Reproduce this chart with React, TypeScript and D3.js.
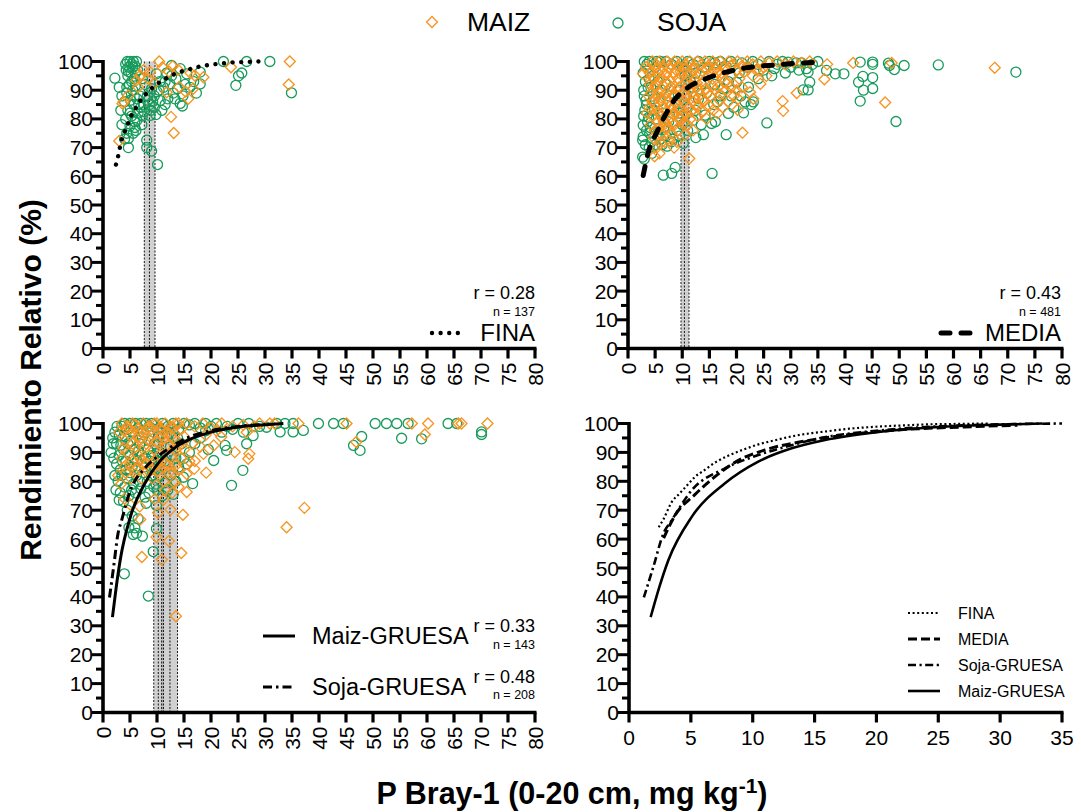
import React from "react";
import * as d3 from "d3";

const FONT = "'Liberation Sans', Arial, Helvetica, sans-serif";
const ORANGE = "#F7931E";
const GREEN = "#179B5B";

type Pt = [number, number];

// ---------- ticks ----------
const xTicksWide = [0, 5, 10, 15, 20, 25, 30, 35, 40, 45, 50, 55, 60, 65, 70, 75, 80];
const xTicksNarrow = [0, 5, 10, 15, 20, 25, 30, 35];
const yTicksMajor = [0, 10, 20, 30, 40, 50, 60, 70, 80, 90, 100];
const yTicksMinor = [5, 15, 25, 35, 45, 55, 65, 75, 85, 95];

// ---------- fitted curves ----------
const curveFina: Pt[] = [[2.4,64.1],[2.8,67],[3.45,72.8],[4.07,75.7],[4.7,78.6],[5.3,81.4],[6.1,83.9],[7,86.6],[8,88.8],[9.2,90.9],[10.4,92.7],[11.8,94.2],[13.1,95.5],[14.8,96.7],[16.2,97.4],[17.8,98.2],[19.3,98.7],[20.9,99.1],[22.5,99.4],[24.1,99.7],[25.8,99.8],[27.4,99.9],[29.1,100]];
const curveMedia: Pt[] = [[2.8,60.3],[3.75,68.4],[5.3,75.3],[6.8,81.1],[8.7,86.9],[11.1,91],[14.2,93.9],[17.9,96.2],[22.2,97.9],[27.1,98.8],[31.4,99.4],[35.4,99.7]];
const curveSoja: Pt[] = [[1.2,39.8],[1.97,50.4],[2.78,61.9],[3.45,66.5],[5.07,76.9],[7.76,84.5],[10.45,89.1],[13.15,92.5],[15.3,94.8],[20,97.5],[25,99],[30,99.7],[35,100]];
const curveMaiz: Pt[] = [[1.75,33],[2.45,43.4],[3.18,52.7],[5.07,67.7],[7.76,79.3],[10.45,86.8],[13.15,91.4],[15.85,94.3],[20,97],[25,98.8],[30,99.6],[33.4,100]];

// ---------- critical-level bands ----------
const bandsFina = [{ x0: 7.65, x1: 9.63, lines: [7.65, 8.6, 9.63] }];
const bandsMedia = [{ x0: 9.77, x1: 11.24, lines: [9.77, 10.4, 11.24] }];
const bandsGruesa = [
  { x0: 9.4, x1: 11.2, lines: [9.4, 10.24, 11.2] },
  { x0: 10.86, x1: 13.8, lines: [10.86, 12.4, 13.8] },
];

// ---------- scatter: FINA ----------
const finaSoja: Pt[] = [[2.2,94.2],[3.0,91],[3.5,88],[3.3,83],[4.0,86],[4.3,97],[4.5,100],[4.8,98],[5.0,100],[5.3,99],[5.6,100],[5.9,98.5],[6.2,100],[4.6,95],[5.2,96],[5.8,94],[6.4,97],[4.9,92],[5.5,90],[6.0,91.5],[4.4,89],[5.1,86.5],[5.7,85],[6.3,87],[6.8,88],[4.6,83],[5.3,81],[5.9,79],[6.5,82],[7.0,84],[6.1,76],[5.0,77.5],[4.4,75],[4.0,73],[4.7,73.2],[4.7,70],[3.5,78],[5.9,77],[7.3,81],[7.6,85],[8.1,72.6],[8.1,70],[9.0,68.8],[10.1,64.1],[8.7,81.2],[8.6,85],[8.9,83],[9.2,86],[9.5,88],[10.6,86.4],[10.9,83],[10.0,89.5],[9.9,95.7],[10.5,93],[11.2,91],[11.8,96],[12.7,98.6],[12.4,92.2],[13.0,89],[13.5,94],[14.3,97.5],[14.3,85.4],[14.7,84.5],[15.5,95.7],[15.2,92],[16.1,91],[16.8,93],[18,92.2],[18,96.3],[17.3,89],[22.3,100],[26.6,100],[30.9,100],[25.7,96],[25.1,95],[24.6,91.7],[34.9,89.1],[7.3,94],[7.8,92],[8.2,88],[12.0,87],[11.5,85],[13.8,90.5],
[4.2,99],[4.7,96.5],[5.5,98],[6.0,96],[5.3,93],[4.4,91],[5.8,88],[6.6,85],[5.0,82],[4.2,80],[5.6,75],[6.3,79.5],[7.2,78],[7.6,82.5],[9.5,84],[9.8,81.5],[10.4,90],[11.5,93],[12.7,95],[13.3,87],[14.8,88],[9,90.5],[8.3,86.5]];
const finaMaiz: Pt[] = [[10.4,100],[11,98],[12.9,98.3],[13.9,97.1],[6.9,95.1],[8.7,96.3],[6.2,93.4],[8.4,94],[6.5,91.1],[3.8,85.9],[3.6,85.3],[4.7,88.2],[3.0,72.3],[12.6,80.7],[13.1,75.1],[15.8,87],[14.1,91.1],[16.7,90.5],[17,95.1],[18.6,94.5],[11.8,89.3],[23.7,98],[34.6,100],[34.4,92],[7.5,97],[9.5,92.5],[12.2,96.5],[15.3,89.5],[16.2,96]];

// ---------- scatter: MEDIA ----------
const mediaSoja: Pt[] = [[3.0,100],[3.5,99],[2.8,96],[3.2,93],[3.0,88],[3.4,85],[2.9,81],[3.6,79],[2.8,77.8],[2.8,73.8],[2.7,72.6],[2.7,66.7],[3.0,66],[4.0,75],[4.3,72],[4.5,83],[4.8,87],[4.2,91],[4.6,95],[5.0,98],[3.9,100],[5.3,100],[6.0,100],[5.5,93],[6.2,90],[5.7,86],[6.4,82],[5.2,80],[6.6,77],[7.0,74],[6.0,73],[7.5,79],[8.0,72],[8.3,73],[10.2,71.5],[6.5,60.4],[8.05,61],[8.7,63.1],[15.5,61],[9.0,76],[9.4,82],[8.8,86],[10,78],[11,84],[12,79.5],[12.5,83],[13.9,74.5],[14.2,81.3],[15.4,78.4],[16.1,79],[18.1,74.5],[18.5,81.9],[21.3,82.1],[25.6,78.6],[13,87],[14.5,89],[15.8,85],[17,88],[16,92],[17.5,90.5],[19,88],[18.5,93],[20,92.8],[22.2,91.1],[23.1,85.9],[21.6,85.9],[22.7,85],[20.5,96],[22,98],[24,99],[25,97],[26,100],[27.5,99],[28.5,100],[30,98],[31,99.5],[29,96],[32.3,90.1],[33.2,90.1],[33.5,92.8],[33.2,96.3],[32.9,97.5],[34,99],[36.6,96.9],[38.2,95.7],[39.8,95.7],[42.8,99.8],[45.1,99.8],[45.1,99],[45.1,94.4],[45.1,90.6],[43.4,90],[42.5,92.8],[43.3,94.8],[42.8,86.2],[48,99.4],[48.2,98.6],[49.1,97.2],[50.9,98.6],[49.4,79.1],[57.2,98.8],[71.5,96.3],[7,100],[8,99],[9,100],[10,98],[11,100],[12,99],[13,100],[14,98],[15,100],[16,99.5],[17,100],[18,98.5],[19,100],[10.5,95],[11.5,93],[12.5,96],[13.5,92],[9.5,90],[7.5,88],[8.5,84],[7.0,92],[10.8,88],[12,91],
[2.9,90],[3.3,86.5],[3.7,91],[3.9,94],[3.1,83],[3.8,80.5],[4.1,77],[3.4,76],[3.2,71],[3.9,70],[4.4,68],[5.0,71],[5.6,74],[6.3,71],[7.2,70.5],[9.5,74],[11,76],[12.5,73.5],[13.5,78],[16.5,86],[19.5,84],[20.8,88],[24,94],[26.5,95],[27,97.5],[31.5,97],[32,99.5],[35,100],[29.5,99.8],[21,99.5],[23,100]];
const mediaMaiz: Pt[] = [[2.8,95.7],[4.9,67],[6,71.4],[11.3,66.2],[21.1,75.2],[20.2,83.2],[20.3,87],[22.5,89.3],[23.1,87],[28.5,86.2],[28.6,82.8],[31.1,89],[36.2,93.8],[36.7,99],[41.5,99.5],[47.4,85.7],[48.6,99.5],[67.6,97.8],[15.7,83],[16.9,86.5],[18.2,92.2],[24.4,92.2],[24.3,96.9],
[4.5,100],[5.2,99],[5.8,100],[6.5,98],[7.2,100],[7.9,99],[8.6,100],[9.3,98.5],[10,100],[10.7,99],[11.4,100],[12.1,98],[12.8,100],[13.5,99],[14.2,100],[14.9,98.5],[15.6,100],[16.3,99],[17,100],[17.8,98],[18.6,100],[19.4,99],[20.2,100],[21,98.5],[22,100],[23,99],[24.5,100],[26,99.5],[27.5,100],[29,99],[30.5,100],[32,99.5],[33.5,100],
[5.5,96],[6.2,94],[7,95.5],[7.8,93],[8.5,96],[9.2,94],[10,95],[10.8,93.5],[11.6,96],[12.4,94],[13.2,95.5],[14,93],[14.8,95],[15.6,94],[16.5,96],[17.4,94.5],[18.3,97],[19.2,95],[20.5,94],[21.5,96.5],[23,95],[25.5,95],
[5,91],[5.8,89],[6.5,91.5],[7.2,89],[8,91],[8.7,88],[9.4,91],[10.2,89.5],[11,91.5],[11.8,89],[12.6,91],[13.4,88.5],[14.3,90.5],[15.2,88],[16,90],[17,88.5],[18,90],
[4.5,86],[5.3,84],[6,86.5],[6.7,84],[7.4,86],[8.1,83],[8.8,85.5],[9.6,83.5],[10.4,86],[11.2,84],[12,86],[13,84.5],[14,86],
[4.6,81],[5.4,79],[6.2,81],[7,78.5],[7.8,80.5],[8.6,78],[9.4,80],[10.3,78.5],[11.5,80],[12.8,81],
[5,76],[6,75],[7,76.5],[8,75],[9.2,76],[10.5,74.5],[6.8,72],[9.0,72],[5.8,68],[3.5,82],[3.8,88],[4.0,92],[3.6,97],[12,76],[14.5,80],[17.5,84],[19.5,88],[21,91],
[3.3,98],[4.0,96],[4.2,93.5],[4.8,94],[5.1,92],[5.6,97.5],[6.3,96.5],[6.9,93],[7.6,97.5],[8.2,94.5],[8.9,97],[9.7,96.5],[10.4,97.5],[11.2,95],[12,96.8],[12.7,92.5],[13.8,96.5],[14.6,97.3],[15.4,96],[16.2,97.5],[17.2,96],[18.9,98.5],[20,97],[21.8,98],[23.6,97],[25,98],
[4.3,89],[5.4,88],[6.1,87.5],[6.9,87],[7.6,90.5],[8.3,88],[9,90],[9.8,87],[10.6,88],[11.4,90.5],[12.2,87.5],[13,90],[13.8,87],[14.6,89],[15.6,91.5],[16.6,91],[17.8,93],[19,91],[20,90],
[3.9,84],[4.9,85],[5.7,82],[6.4,80],[7.1,82.5],[7.8,84.5],[8.4,81.5],[9.1,83.5],[9.9,81.5],[10.8,82],[11.6,82.5],[12.5,85],[13.6,82.5],[15,84.5],[16.5,82],[18.5,86],
[4.2,78],[5.6,76.5],[6.6,79],[7.4,77],[8.3,79],[9.8,80],[11,78],[4.7,73.5],[7.6,72.5],[8.5,70],[5.3,70]];

// ---------- scatter: GRUESA ----------
const gruesaSoja: Pt[] = [[3.95,48],[8.4,40.3],[5.6,61.6],[5.9,63.9],[7.3,61],[9.3,55.7],[9.9,63.6],[8,72.4],[9.9,71.6],[23.8,78.6],[25.9,83.8],[20.5,87.2],[16.6,79.2],[14.9,81.4],[22.9,90.7],[22.6,92.4],[26.6,93],[27.8,95.8],[26,97],[30.3,98.7],[32.2,100],[33.7,100],[35.2,100],[39.9,100],[42.7,100],[44.5,100],[50.4,100],[52.5,100],[54.4,100],[56.5,100],[63.9,100],[65.5,100],[32.8,97.1],[35.2,97.1],[37.1,97.6],[47.9,95.5],[46.4,92.4],[47.6,90.7],[55.3,94.9],[59,94.7],[70.1,97.1],[70.1,96.2],
[1.8,95],[2.2,97],[2.5,93],[3,96],[3.5,99],[4,100],[4.5,98],[5,100],[5.5,97],[6,100],[6.5,98.5],[7,100],[7.5,97],[8,100],[8.5,99],[9,100],[10,98],[11,100],[12,99],[13,100],[14,98],[15,100],[16,99.5],[17,100],[18,98.5],[19,100],[20,99],[21,100],[23,99],[25,100],
[2.5,86],[3,89],[3.2,84],[3.8,91],[4.2,87],[4.6,93],[5,89],[5.4,85],[5.8,91],[6.3,87],[6.8,93],[7.2,89],[7.8,85],[8.3,91],[8.8,87],[9.5,93],[10.5,90],[11.5,87],[12.5,92],[13.5,88],[14.5,93],[16,90],[18,95],[19.5,91],
[2.8,80],[3.5,82],[4,78],[4.5,81],[5,83],[5.6,79],[6.2,82],[6.8,80],[7.5,83],[8.2,80],[9,82],[9.8,79],[10.6,82],[11.5,79.5],[12.5,82],[13.5,80],[14,85],[15.5,86],
[3.2,76],[4.8,75],[6,76],[7,77.5],[8.5,76],[10,77],[11,75],[12,77],[13,75.5],[4.5,70],[6.5,67],[3.8,73],
[1.5,90],[2,88],[2.2,82],[1.9,93],[2.6,99],[3.3,92.5],[3.6,87],[4.3,84],[4.1,95.5],[5.2,94],[5.7,88],[6.1,84.5],[6.6,90.5],[7.3,95],[7.9,88],[8.6,94],[9.2,89],[9.7,84],[10.3,95.5],[10.8,87],[11.8,95],[12.8,89],[13.8,95],[15,88],[17,93],[19,97.5],[22,97],[24,98],[27,100],[29,99],[2.4,77],[3,73.5],[5.3,77],[7.8,74.5],[9.4,78],[5.4,68],[6.2,62],[4.8,64]];
const gruesaMaiz: Pt[] = [[13.5,33.3],[7.2,53.8],[10.9,52.9],[12.2,59.3],[9.9,60.7],[14.5,55.2],[6.9,66.8],[6.8,71.3],[10.2,69.1],[12.5,70.2],[14.8,68.4],[9.6,73.9],[11.2,73.6],[34,64.1],[37.3,70.8],[19.1,83],[16.9,84.3],[15.5,76.3],[18.6,89.5],[20.5,92.4],[21.9,95.3],[24.4,90.1],[26.9,87.8],[27.1,89.5],[26.6,97],[36.2,100],[45.1,100],[57.2,100],[60.2,100],[65.8,100],[66.4,100],[71.2,100],[59.6,96.2],[46.9,93.6],[30.9,100],[31.8,100],
[3.5,100],[4.5,99],[5.5,100],[6.5,98],[7.5,100],[8.5,99],[9.5,100],[10.5,98.5],[11.5,100],[12.5,99],[13.5,100],[14.5,98],[15.5,100],[17,99],[18.5,100],[20,98.5],[22,100],[24,99],
[4,94],[5,96],[6,92],[7,95],[8,93],[9,96],[10,93.5],[11,96],[12,92.5],[13,95],[14,92],[15,95.5],[16.5,93],[18,92],
[3.5,88],[4.5,90],[5.5,87],[6.5,89],[7.5,86],[8.5,89],[9.5,86.5],[10.5,89],[11.5,86],[12.5,88.5],[13.5,85.5],[14.5,88],[16,87],
[3.3,79],[4.2,83],[5.2,81],[6.2,84],[7.2,81],[8.2,84],[9.2,81],[10.2,83.5],[11.2,80],[12.2,83],[13.2,79.5],[14,78],
[2.8,82],[4,74],[5,72],[11.5,77],[12.8,76],
[3,97],[4,97.5],[5,98],[6,99.5],[7,97],[8,98],[9,98],[10,100],[11,97.5],[12,97],[13,98.5],[14,100],[3.8,91.5],[5.5,93],[6.5,95.5],[7.5,92],[8.5,94.5],[9.5,91],[10.5,95],[11.5,92],[12.5,95.5],[13.5,91],[15,91],[4,85],[5,86],[6,82.5],[7,87.5],[8,86],[9,84],[10,86],[11,84.5],[12,85.5],[13,83],[14,84],[15.5,82.5],[17,87],[19,96],[21,97.5],[28,99],[26,99.5],[29,100]];

// ---------- annotation texts ----------
const legendTop = ["MAIZ", "SOJA"];
const statsFina = { r: "r = 0.28", n: "n = 137", label: "FINA" };
const statsMedia = { r: "r = 0.43", n: "n = 481", label: "MEDIA" };
const statsMaiz = { r: "r = 0.33", n: "n = 143", label: "Maiz-GRUESA" };
const statsSoja = { r: "r = 0.48", n: "n = 208", label: "Soja-GRUESA" };
const summaryLegend = ["FINA", "MEDIA", "Soja-GRUESA", "Maiz-GRUESA"];

type LineStyle = { width: number; dash?: string; cap?: "round" | "butt" };
const styleFinaBig: LineStyle = { width: 4.4, dash: "0.01 8.6", cap: "round" };
const styleMediaBig: LineStyle = { width: 5, dash: "9 11", cap: "round" };
const styleSolid: LineStyle = { width: 3 };
const styleDashDot: LineStyle = { width: 3, dash: "9 4 2.5 4" };
const styleFinaSmall: LineStyle = { width: 2.2, dash: "2 2.6" };
const styleMediaSmall: LineStyle = { width: 3, dash: "9 4" };
const styleDashDotSmall: LineStyle = { width: 2.6, dash: "8 3.5 2.2 3.5" };
const styleSolidSmall: LineStyle = { width: 2.6 };

function Diamond({ cx, cy, s }: { cx: number; cy: number; s: number }) {
  return (
    <path
      d={`M${cx},${cy - s}L${cx + s},${cy}L${cx},${cy + s}L${cx - s},${cy}Z`}
      fill="none"
      stroke={ORANGE}
      strokeWidth={1.3}
    />
  );
}

function StyledPath({ d, st }: { d: string; st: LineStyle }) {
  return (
    <path
      d={d}
      fill="none"
      stroke="#000"
      strokeWidth={st.width}
      strokeDasharray={st.dash}
      strokeLinecap={st.cap ?? "butt"}
    />
  );
}

type Sc = d3.ScaleLinear<number, number>;

function Axes({ x, y, xTicks, rotate }: { x: Sc; y: Sc; xTicks: number[]; rotate: boolean }) {
  const x0 = x.range()[0];
  const x1 = x.range()[1];
  const yb = y(0);
  const yt = y(100);
  return (
    <g>
      {yTicksMajor.map((t) => (
        <g key={"ym" + t}>
          <line x1={x0 - 11} x2={x0} y1={y(t)} y2={y(t)} stroke="#000" strokeWidth={3} />
          <text x={x0 - 10} y={y(t)} dy="0.36em" textAnchor="end" fontSize={21}>
            {t}
          </text>
        </g>
      ))}
      {yTicksMinor.map((t) => (
        <line key={"yn" + t} x1={x0 - 7} x2={x0} y1={y(t)} y2={y(t)} stroke="#000" strokeWidth={3} />
      ))}
      {xTicks.map((t) => (
        <g key={"x" + t}>
          <line x1={x(t)} x2={x(t)} y1={yb} y2={yb + 10} stroke="#000" strokeWidth={3.2} />
          {rotate ? (
            <text
              transform={`translate(${x(t)},${yb + 14}) rotate(-90)`}
              dy="0.36em"
              textAnchor="end"
              fontSize={21}
            >
              {t}
            </text>
          ) : (
            <text x={x(t)} y={yb + 32} textAnchor="middle" fontSize={21}>
              {t}
            </text>
          )}
        </g>
      ))}
      <line x1={x0} x2={x0} y1={yt - 1.5} y2={yb + 1.5} stroke="#000" strokeWidth={3.6} />
      <line x1={x0 - 1.5} x2={x1 + 1.5} y1={yb} y2={yb} stroke="#000" strokeWidth={3.6} />
    </g>
  );
}

function Bands({ x, y, bands }: { x: Sc; y: Sc; bands: { x0: number; x1: number; lines: number[] }[] }) {
  return (
    <g>
      {bands.map((b, i) => (
        <rect
          key={"b" + i}
          x={x(b.x0)}
          y={y(100)}
          width={x(b.x1) - x(b.x0)}
          height={y(0) - y(100)}
          fill="#a9a9a9"
          fillOpacity={0.55}
        />
      ))}
      {bands.flatMap((b, i) =>
        b.lines.map((l, j) => (
          <line
            key={`l${i}-${j}`}
            x1={x(l)}
            x2={x(l)}
            y1={y(100)}
            y2={y(0)}
            stroke="#000"
            strokeWidth={0.9}
            strokeDasharray="2 1.5"
          />
        ))
      )}
    </g>
  );
}

function Scatter({ x, y, soja, maiz }: { x: Sc; y: Sc; soja: Pt[]; maiz: Pt[] }) {
  return (
    <g>
      {soja.map((p, i) => (
        <circle key={"s" + i} cx={x(p[0])} cy={y(p[1])} r={5} fill="none" stroke={GREEN} strokeWidth={1.3} />
      ))}
      {maiz.map((p, i) => (
        <Diamond key={"m" + i} cx={x(p[0])} cy={y(p[1])} s={5.5} />
      ))}
    </g>
  );
}

export default function App() {
  const yTop = d3.scaleLinear().domain([0, 100]).range([348.5, 61.5]);
  const yBot = d3.scaleLinear().domain([0, 100]).range([712.5, 423.5]);
  const xTL = d3.scaleLinear().domain([0, 80]).range([103, 535]);
  const xTR = d3.scaleLinear().domain([0, 80]).range([628, 1062]);
  const xBL = d3.scaleLinear().domain([0, 80]).range([103, 535]);
  const xBR = d3.scaleLinear().domain([0, 35]).range([629, 1062]);

  const mk = (x: Sc, y: Sc) =>
    d3
      .line<Pt>()
      .x((d) => x(d[0]))
      .y((d) => y(d[1]))
      .curve(d3.curveMonotoneX);

  const lTL = mk(xTL, yTop);
  const lTR = mk(xTR, yTop);
  const lBL = mk(xBL, yBot);
  const lBR = mk(xBR, yBot);

  const brLegendY = [613, 639, 665, 691];
  const brStyles = [styleFinaSmall, styleMediaSmall, styleDashDotSmall, styleSolidSmall];

  return (
    <div style={{ position: "absolute", left: 0, top: 0 }}>
      <svg width={1081} height={812} style={{ display: "block", background: "#fff" }} fontFamily={FONT}>
        <rect width={1081} height={812} fill="#fff" />

        {/* top legend */}
        <Diamond cx={432} cy={22} s={5.5} />
        <text x={467} y={31} fontSize={26.5}>{legendTop[0]}</text>
        <circle cx={618} cy={23} r={5} fill="none" stroke={GREEN} strokeWidth={1.3} />
        <text x={657} y={31} fontSize={26.5}>{legendTop[1]}</text>

        {/* Top-left: FINA */}
        <Bands x={xTL} y={yTop} bands={bandsFina} />
        <Scatter x={xTL} y={yTop} soja={finaSoja} maiz={finaMaiz} />
        <StyledPath d={lTL(curveFina) ?? ""} st={styleFinaBig} />
        <Axes x={xTL} y={yTop} xTicks={xTicksWide} rotate={true} />
        <text x={535} y={299} textAnchor="end" fontSize={18}>{statsFina.r}</text>
        <text x={535} y={316} textAnchor="end" fontSize={12.5}>{statsFina.n}</text>
        <line x1={432} x2={460} y1={333} y2={333} stroke="#000" strokeWidth={4.4} strokeDasharray="0.01 8.6" strokeLinecap="round" />
        <text x={535} y={341} textAnchor="end" fontSize={24}>{statsFina.label}</text>

        {/* Top-right: MEDIA */}
        <Bands x={xTR} y={yTop} bands={bandsMedia} />
        <Scatter x={xTR} y={yTop} soja={mediaSoja} maiz={mediaMaiz} />
        <StyledPath d={lTR(curveMedia) ?? ""} st={styleMediaBig} />
        <Axes x={xTR} y={yTop} xTicks={xTicksWide} rotate={true} />
        <text x={1061} y={299} textAnchor="end" fontSize={18}>{statsMedia.r}</text>
        <text x={1061} y={316} textAnchor="end" fontSize={12.5}>{statsMedia.n}</text>
        <line x1={941} x2={971} y1={333} y2={333} stroke="#000" strokeWidth={5} strokeDasharray="9 11" strokeLinecap="round" />
        <text x={1061} y={341} textAnchor="end" fontSize={24}>{statsMedia.label}</text>

        {/* Bottom-left: GRUESA */}
        <Bands x={xBL} y={yBot} bands={bandsGruesa} />
        <Scatter x={xBL} y={yBot} soja={gruesaSoja} maiz={gruesaMaiz} />
        <StyledPath d={lBL(curveSoja.filter((p) => p[0] <= 33.4)) ?? ""} st={styleDashDot} />
        <StyledPath d={lBL(curveMaiz) ?? ""} st={styleSolid} />
        <Axes x={xBL} y={yBot} xTicks={xTicksWide} rotate={true} />
        <line x1={263} x2={295} y1={636} y2={636} stroke="#000" strokeWidth={3} />
        <text x={312} y={644} fontSize={23.5}>{statsMaiz.label}</text>
        <text x={535} y={632} textAnchor="end" fontSize={18}>{statsMaiz.r}</text>
        <text x={535} y={649} textAnchor="end" fontSize={12.5}>{statsMaiz.n}</text>
        <line x1={263} x2={295} y1={687} y2={687} stroke="#000" strokeWidth={3} strokeDasharray="9 4 2.5 4" />
        <text x={312} y={695} fontSize={23.5}>{statsSoja.label}</text>
        <text x={535} y={683} textAnchor="end" fontSize={18}>{statsSoja.r}</text>
        <text x={535} y={699} textAnchor="end" fontSize={12.5}>{statsSoja.n}</text>

        {/* Bottom-right: summary */}
        <StyledPath d={lBR(curveFina) ?? ""} st={styleFinaSmall} />
        <StyledPath d={lBR(curveMedia.filter((p) => p[0] <= 35)) ?? ""} st={styleMediaSmall} />
        <StyledPath d={lBR(curveSoja) ?? ""} st={styleDashDotSmall} />
        <StyledPath d={lBR(curveMaiz) ?? ""} st={styleSolidSmall} />
        <Axes x={xBR} y={yBot} xTicks={xTicksNarrow} rotate={false} />
        {summaryLegend.map((lab, i) => (
          <g key={lab}>
            <line
              x1={908}
              x2={940}
              y1={brLegendY[i]}
              y2={brLegendY[i]}
              stroke="#000"
              strokeWidth={brStyles[i].width}
              strokeDasharray={brStyles[i].dash}
            />
            <text x={958} y={brLegendY[i] + 6} fontSize={16}>{lab}</text>
          </g>
        ))}

        {/* Axis titles */}
        <text transform="translate(41,380) rotate(-90)" textAnchor="middle" fontSize={30} fontWeight="bold">
          Rendimiento Relativo (%)
        </text>
        <text x={572} y={804} textAnchor="middle" fontSize={30.5} fontWeight="bold">
          P Bray-1 (0-20 cm, mg kg
          <tspan dy={-11} fontSize={21}>-1</tspan>
          <tspan dy={11}>)</tspan>
        </text>
      </svg>
    </div>
  );
}
